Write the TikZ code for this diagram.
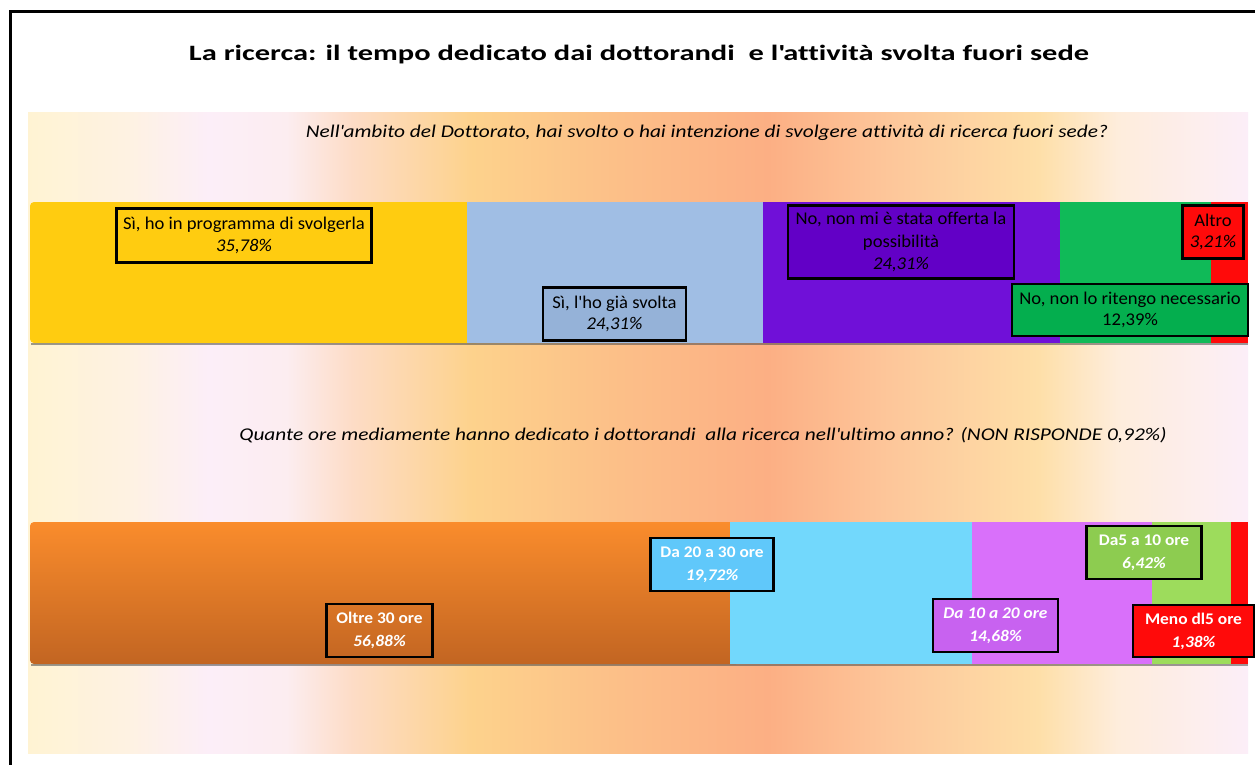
\documentclass[tikz,border=0pt]{standalone}
\usepackage{fontspec}
\setmainfont{Carlito}[Ligatures=CommonOff]
\newfontfamily\titlefam{Carlito}[FakeStretch=1.39, Ligatures=CommonOff]
\newfontfamily\qfam{Carlito}[FakeStretch=1.19, Ligatures=CommonOff]
\newfontfamily\lfam{Carlito}[FakeStretch=1.04, Ligatures=CommonOff]
\newfontfamily\wfam{Carlito}[FakeStretch=1.07, Ligatures=CommonOff]
\newcommand{\ap}{\textquotesingle}
\definecolor{bgA}{HTML}{FFF3D3}
\definecolor{bgB}{HTML}{FEF2E2}
\definecolor{bgC}{HTML}{FCEEF8}
\definecolor{bgD}{HTML}{FCEDF0}
\definecolor{bgE}{HTML}{FDDCC6}
\definecolor{bgF}{HTML}{FDD28C}
\definecolor{bgG}{HTML}{FCBE88}
\definecolor{bgH}{HTML}{FCAF84}
\definecolor{bgI}{HTML}{FDC69A}
\definecolor{bgJ}{HTML}{FEDFA8}
\definecolor{bgK}{HTML}{FEEDDC}
\definecolor{bgL}{HTML}{FCEEF8}
\definecolor{cYel}{HTML}{FFCC10}
\definecolor{cBlu}{HTML}{A0BEE4}
\definecolor{cBluD}{HTML}{95B2D8}
\definecolor{cPur}{HTML}{7010D8}
\definecolor{cPurD}{HTML}{6200C6}
\definecolor{cGrn}{HTML}{10BA58}
\definecolor{cGrnD}{HTML}{04AE4E}
\definecolor{cRed}{HTML}{FF0A0A}
\definecolor{cOrT}{HTML}{FA8C2C}
\definecolor{cOrB}{HTML}{C26522}
\definecolor{cCya}{HTML}{72D8FC}
\definecolor{cCyaD}{HTML}{60C8FA}
\definecolor{cPnk}{HTML}{D970FA}
\definecolor{cPnkD}{HTML}{C862F0}
\definecolor{cLgr}{HTML}{9DDC5C}
\definecolor{cLgrD}{HTML}{8DCC50}
\pgfdeclarehorizontalshading{bgshade}{100bp}{color(0bp)=(bgA); color(25bp)=(bgA); color(29.1bp)=(bgB); color(32.38bp)=(bgC); color(35.6bp)=(bgD); color(38.3bp)=(bgE); color(43.2bp)=(bgF); color(49.59bp)=(bgG); color(55.33bp)=(bgH); color(60.25bp)=(bgI); color(66.39bp)=(bgJ); color(69.67bp)=(bgK); color(75bp)=(bgL); color(100bp)=(bgL)}
\begin{document}
\begin{tikzpicture}[x=1bp,y=-1bp,
  lbl/.style={draw=black, line width=2.6bp, align=center, inner sep=0pt, font=\lfam\fontsize{18}{21.5}\selectfont},
  lblw/.style={draw=black, line width=2.6bp, align=center, inner sep=0pt, text=white, font=\wfam\fontsize{16.3}{23}\selectfont\bfseries},
  shadowline/.style={draw=black!70, line width=1.6bp, opacity=0.55}
]
\useasboundingbox (0,0) rectangle (1255,765);
\fill[white] (0,0) rectangle (1255,765);
% background panel
\shade[shading=bgshade] (28,112) rectangle (1248,753);
% frame
\draw[line width=3bp] (10.5,765) -- (10.5,12) -- (1255,12);
% title
\node[font=\titlefam\fontsize{22}{26}\selectfont\bfseries] (title) at (639,55) {La ricerca: il tempo dedicato dai dottorandi\ \ e l\ap attività svolta fuori sede};
% question 1
\node[font=\qfam\fontsize{18}{21}\selectfont\itshape] (q1) at (707,133) {Nell\ap ambito del Dottorato, hai svolto o hai intenzione di svolgere attività di ricerca fuori sede?};
% bar 1
\fill[cYel, rounded corners=4bp] (30,202) rectangle (480,343);
\fill[cBlu] (467,202) rectangle (763,343);
\fill[cPur] (763,202) rectangle (1060,343);
\fill[cGrn] (1060,202) rectangle (1211,343);
\fill[cRed] (1211,202) rectangle (1248,343);
\draw[shadowline] (31,344) -- (1248,344);
% labels bar 1
\node[lbl, fill=cYel, minimum width=255bp, minimum height=54bp] (l1) at (244,235.5) {Sì, ho in programma di svolgerla\\{\itshape 35,78\%}};
\node[lbl, fill=cBluD, minimum width=143bp, minimum height=53bp] (l2) at (614.5,314) {Sì, l\ap ho già svolta\\{\itshape 24,31\%}};
\node[lbl, fill=cPurD, minimum width=226bp, minimum height=73bp, font=\lfam\fontsize{18}{22.5}\selectfont] (l3) at (901,242) {No, non mi è stata offerta la\\possibilità\\{\itshape 24,31\%}};
\node[lbl, fill=cGrnD, minimum width=236bp, minimum height=52bp] (l4) at (1130,310) {No, non lo ritengo necessario\\12,39\%};
\node[lbl, fill=cRed, minimum width=61bp, minimum height=53bp] (l5) at (1213,232) {Altro\\{\itshape 3,21\%}};
% question 2
\node[font=\qfam\fontsize{18}{21}\selectfont\itshape] (q2) at (703,435) {Quante ore mediamente hanno dedicato i dottorandi\ \ alla ricerca nell\ap ultimo anno? (NON RISPONDE 0,92\%)};
% bar 2
\shade[top color=cOrT, bottom color=cOrB, rounded corners=4bp] (30,522) rectangle (740,664);
\fill[cCya] (730,522) rectangle (972,664);
\fill[cPnk] (972,522) rectangle (1152,664);
\fill[cLgr] (1152,522) rectangle (1231,664);
\fill[cRed] (1231,522) rectangle (1248,664);
\draw[shadowline] (31,665) -- (1248,665);
% labels bar 2
\node[lblw, minimum width=106bp, minimum height=53bp] (m1) at (379.5,630.5) {Oltre 30 ore\\{\itshape 56,88\%}};
\node[lblw, fill=cCyaD, minimum width=123bp, minimum height=53bp] (m2) at (712,564.5) {Da 20 a 30 ore\\{\itshape 19,72\%}};
\node[lblw, fill=cPnkD, minimum width=125bp, minimum height=53bp, font=\wfam\fontsize{16.3}{23}\selectfont\bfseries\itshape] (m3) at (995.5,625.5) {Da 10 a 20 ore\\14,68\%};
\node[lblw, fill=cLgrD, minimum width=115bp, minimum height=53bp] (m4) at (1144,552.5) {Da5 a 10 ore\\{\itshape 6,42\%}};
\node[lblw, fill=cRed, minimum width=121bp, minimum height=52bp] (m5) at (1193.5,631) {Meno dl5 ore\\{\itshape 1,38\%}};
\end{tikzpicture}
\end{document}
